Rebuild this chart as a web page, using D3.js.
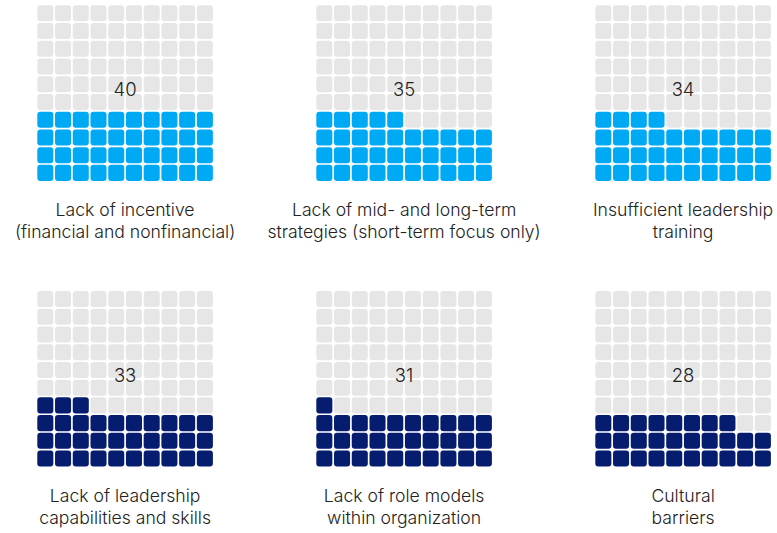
<!DOCTYPE html>
<html>
<head>
<meta charset="utf-8">
<script src="https://cdn.jsdelivr.net/npm/d3@7"></script>
<style>
  body { margin: 0; background: white; }
</style>
</head>
<body>
<div id="chart"></div>
<script>
// Chart values
const values = [40, 35, 34, 33, 31, 28];
const labels = [
  ["Lack of incentive", "(financial and nonfinancial)"],
  ["Lack of mid- and long-term", "strategies (short-term focus only)"],
  ["Insufficient leadership", "training"],
  ["Lack of leadership", "capabilities and skills"],
  ["Lack of role models", "within organization"],
  ["Cultural", "barriers"]
];
const panelRow = [0, 0, 0, 1, 1, 1];
const panelCol = [0, 1, 2, 0, 1, 2];

const width = 777;
const height = 533;

const blue = "#00a9f4";
const navy = "#051c6f";
const gray = "#e6e6e6";

const svg = d3.select("#chart")
  .append("svg")
  .attr("width", width)
  .attr("height", height)
  .style("background-color", "white");

// panel placement
const colX = d3.scaleLinear().domain([0, 1]).range([37.3, 316.3]);
const rowY = d3.scaleLinear().domain([0, 1]).range([5.3, 291]);

// cell positions inside a 10x10 waffle
const gridSize = 175.6;
const cell = d3.scaleBand()
  .domain(d3.range(10))
  .range([0, gridSize])
  .paddingInner(0.095);

const font = "Inter, Liberation Sans, Arial, sans-serif";

values.forEach((v, i) => {
  const g = svg.append("g")
    .attr("transform", `translate(${colX(panelCol[i])},${rowY(panelRow[i])})`);

  const fillColor = panelRow[i] === 0 ? blue : navy;

  // cells numbered from bottom-left, row by row
  const cells = d3.range(100).map(k => ({
    k: k,
    col: k % 10,
    row: 9 - Math.floor(k / 10)
  }));

  g.selectAll("rect")
    .data(cells)
    .enter().append("rect")
    .attr("x", d => cell(d.col))
    .attr("y", d => cell(d.row))
    .attr("width", cell.bandwidth())
    .attr("height", cell.bandwidth())
    .attr("rx", 3)
    .attr("ry", 3)
    .attr("fill", d => d.k < v ? fillColor : gray);

  // value label
  g.append("text")
    .attr("x", gridSize / 2)
    .attr("y", 90.5)
    .attr("text-anchor", "middle")
    .style("font-family", font)
    .style("font-size", "18.5px")
    .style("font-weight", 350)
    .attr("fill", "#222")
    .text(v);

  // category label
  const t = g.append("text")
    .attr("text-anchor", "middle")
    .style("font-family", font)
    .style("font-size", "17.6px")
    .style("font-weight", 350)
    .attr("fill", "#222");
  labels[i].forEach((line, j) => {
    t.append("tspan")
      .attr("x", gridSize / 2)
      .attr("y", 211 + j * 21.7)
      .text(line);
  });
});
</script>
</body>
</html>
